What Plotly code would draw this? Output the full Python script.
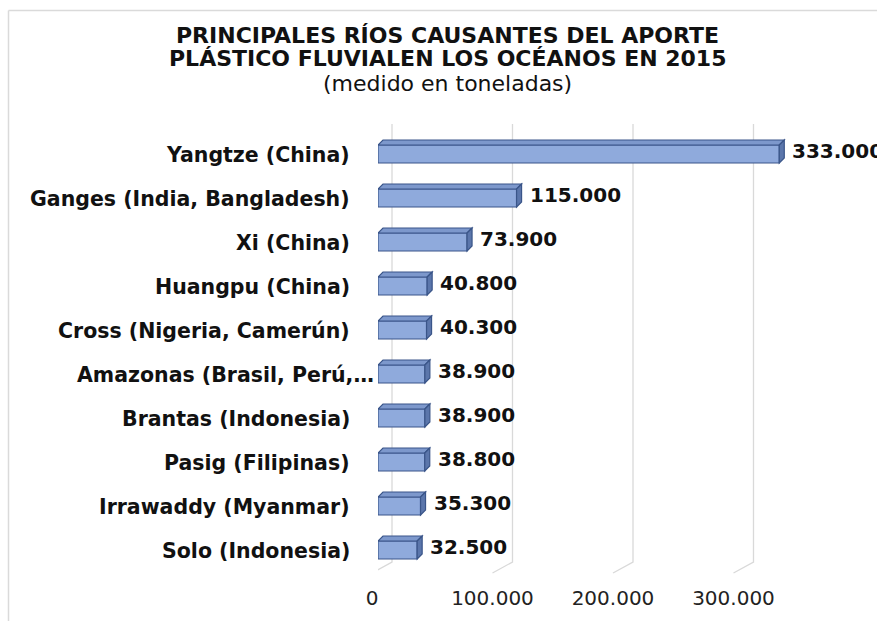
import plotly.graph_objects as go

# Rivers and their plastic input to the oceans (tonnes, 2015)
rivers = [
    "Yangtze (China)",
    "Ganges (India, Bangladesh)",
    "Xi (China)",
    "Huangpu (China)",
    "Cross (Nigeria, Camerún)",
    "Amazonas (Brasil, Perú,…",
    "Brantas (Indonesia)",
    "Pasig (Filipinas)",
    "Irrawaddy (Myanmar)",
    "Solo (Indonesia)",
]
tonnes = [333000, 115000, 73900, 40800, 40300, 38900, 38900, 38800, 35300, 32500]

tick_values = [0, 100000, 200000, 300000]
tick_labels = ["0", "100.000", "200.000", "300.000"]

title_lines = [
    "PRINCIPALES RÍOS CAUSANTES DEL APORTE",
    "PLÁSTICO FLUVIALEN LOS OCÉANOS EN 2015",
]
subtitle = "(medido en toneladas)"


def fmt(v):
    return f"{v:,}".replace(",", ".")


W, H = 877, 621
M_L, M_R, M_T, M_B = 378, 17, 132, 49
X_MAX = 400000
plot_w = W - M_L - M_R
plot_h = H - M_T - M_B

FONT_B = "DejaVu Sans"
FRONT = "#8FAADC"
TOP = "#7D98CC"
SIDE = "#5B76AB"
EDGE = "#3A5589"
GRID = "#D9D9D9"

pos = list(range(len(rivers)))
BAR_W = 0.41
half_px = BAR_W * plot_h / len(rivers) / 2
depth_px = 5
depth_x = depth_px * X_MAX / plot_w  # depth offset in data units

fig = go.Figure()
fig.add_trace(go.Bar(
    x=tonnes, y=pos, orientation="h", width=BAR_W,
    marker=dict(color=FRONT, line=dict(color=EDGE, width=1.2)),
    hoverinfo="skip", showlegend=False,
))

shapes = []
# back-wall gridlines with oblique floor segment
for tv in tick_values:
    shapes.append(dict(
        type="path", layer="below",
        xref="x", xsizemode="pixel", xanchor=tv,
        yref="paper", ysizemode="pixel", yanchor=0,
        path="M -6,-1 L 14,10 L 14,448",
        line=dict(color=GRID, width=1.3),
    ))

# top and side faces of each 3-D bar
for v, p in zip(tonnes, pos):
    t = half_px
    shapes.append(dict(
        type="path", layer="above",
        xref="x", yref="y", ysizemode="pixel", yanchor=p,
        path=f"M 0,{t} L {depth_x},{t + depth_px} L {v + depth_x},{t + depth_px} L {v},{t} Z",
        fillcolor=TOP, line=dict(color=EDGE, width=1.2),
    ))
    shapes.append(dict(
        type="path", layer="above",
        xref="x", yref="y", ysizemode="pixel", yanchor=p,
        path=f"M {v},{t} L {v + depth_x},{t + depth_px} L {v + depth_x},{-t + depth_px} L {v},{-t} Z",
        fillcolor=SIDE, line=dict(color=EDGE, width=1.2),
    ))

# chart frame (top and left border)
fx = (8.5 - M_L) / plot_w
fy = (H - M_B - 10.5) / plot_h
shapes.append(dict(type="line", xref="paper", yref="paper",
                   x0=fx, x1=(W - M_L) / plot_w, y0=fy, y1=fy,
                   line=dict(color="#DADADA", width=1.5)))
shapes.append(dict(type="line", xref="paper", yref="paper",
                   x0=fx, x1=fx, y0=fy, y1=-M_B / plot_h,
                   line=dict(color="#DADADA", width=1.5)))

annotations = []
for name, v, p in zip(rivers, tonnes, pos):
    shift = -2 if name.endswith("…") else -26
    annotations.append(dict(
        x=0, y=p, xref="x", yref="y", text=f"<b>{name}</b>",
        xanchor="right", yanchor="middle", xshift=shift, yshift=-1,
        showarrow=False, font=dict(family=FONT_B, size=20.5, color="#111111"),
    ))
    annotations.append(dict(
        x=v, y=p, xref="x", yref="y", text=f"<b>{fmt(v)}</b>",
        xanchor="left", yanchor="middle", xshift=11, yshift=3,
        showarrow=False, font=dict(family=FONT_B, size=20, color="#111111"),
    ))


def py(px):
    return (H - M_B - px) / plot_h


cx = (447.5 - M_L) / plot_w
for line, ypx in zip(title_lines, [35.5, 58.5]):
    annotations.append(dict(
        x=cx, y=py(ypx), xref="paper", yref="paper", text=f"<b>{line}</b>",
        xanchor="center", yanchor="middle", showarrow=False,
        font=dict(family=FONT_B, size=22, color="#111111"),
    ))
annotations.append(dict(
    x=cx, y=py(84), xref="paper", yref="paper", text=subtitle,
    xanchor="center", yanchor="middle", showarrow=False,
    font=dict(family=FONT_B, size=22, color="#111111"),
))

fig.update_layout(
    width=W, height=H,
    margin=dict(l=M_L, r=M_R, t=M_T, b=M_B, autoexpand=False),
    paper_bgcolor="white", plot_bgcolor="white",
    shapes=shapes, annotations=annotations,
    xaxis=dict(
        range=[0, X_MAX], tickvals=tick_values, ticktext=tick_labels,
        showgrid=False, zeroline=False, showline=False, ticks="",
        ticklabelshift=-6, ticklabelstandoff=12,
        tickfont=dict(family=FONT_B, size=20, color="#222222"),
    ),
    yaxis=dict(
        range=[len(rivers) - 0.5, -0.5], showticklabels=False,
        showgrid=False, zeroline=False, showline=False,
    ),
)

fig.write_html("out.html")
